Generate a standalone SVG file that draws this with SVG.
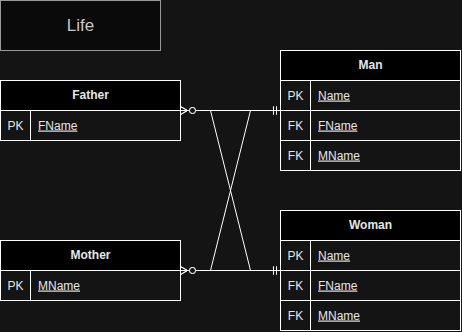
<svg xmlns="http://www.w3.org/2000/svg" width="462" height="332" viewBox="0 0 462 332">
  <style>
    .hdr { fill: #000000; stroke: #ffffff; stroke-width: 1; }
    .row { fill: #141414; stroke: #ffffff; stroke-width: 1; }
    .div { stroke: #ffffff; stroke-width: 1; }
    .title { font-family: "Liberation Sans", Arial, sans-serif; font-size: 12px; font-weight: bold; fill: #e6e6e6; text-anchor: middle; }
    .key { font-family: "Liberation Sans", Arial, sans-serif; font-size: 12px; fill: #e6e6e6; text-anchor: middle; }
    .fld { font-family: "Liberation Sans", Arial, sans-serif; font-size: 12px; fill: #e6e6e6; text-decoration: underline; }
    .edge { fill: none; stroke: #ffffff; stroke-width: 1; }
  </style>
  <defs>
    <!-- zero-or-many: crow's foot plus open circle -->
    <marker id="zeroMany" markerUnits="userSpaceOnUse" markerWidth="20" markerHeight="12" refX="0" refY="6" orient="auto" viewBox="0 0 20 12">
      <path d="M0,2 L7,6 L0,10 M0,6 L9,6" fill="none" stroke="#ffffff" stroke-width="1"/>
      <circle cx="12" cy="6" r="3" fill="#141414" stroke="#ffffff" stroke-width="1"/>
    </marker>
    <!-- mandatory one: two bars -->
    <marker id="mandOne" markerUnits="userSpaceOnUse" markerWidth="12" markerHeight="12" refX="10" refY="6" orient="auto" viewBox="0 0 12 12">
      <path d="M3,2 L3,10 M6,2 L6,10" fill="none" stroke="#ffffff" stroke-width="1"/>
    </marker>
  </defs>

  <rect width="462" height="332" fill="#141414"/>

  <g id="life">
    <rect x="0.5" y="0.5" width="160" height="50" fill="#0a0a0a" stroke="#999999"/>
    <text x="80.5" y="31" font-family="Liberation Sans, Arial, sans-serif" font-size="17" fill="#c8c8c8" text-anchor="middle">Life</text>
  </g>

  <g id="father">
    <rect class="row" x="0.5" y="110.5" width="180" height="30"/>
    <rect class="hdr" x="0.5" y="80.5" width="180" height="30"/>
    <line class="div" x1="30.5" y1="110.5" x2="30.5" y2="140.5"/>
    <text class="title" x="90.5" y="99">Father</text>
    <text class="key" x="15.5" y="129.5">PK</text>
    <text class="fld" x="38" y="129.5">FName</text>
  </g>

  <g id="mother">
    <rect class="row" x="0.5" y="270.5" width="180" height="30"/>
    <rect class="hdr" x="0.5" y="240.5" width="180" height="30"/>
    <line class="div" x1="30.5" y1="270.5" x2="30.5" y2="300.5"/>
    <text class="title" x="90.5" y="259">Mother</text>
    <text class="key" x="15.5" y="289.5">PK</text>
    <text class="fld" x="38" y="289.5">MName</text>
  </g>

  <g id="man">
    <rect class="row" x="280.5" y="80.5" width="180" height="90"/>
    <rect class="hdr" x="280.5" y="50.5" width="180" height="30"/>
    <line class="div" x1="280.5" y1="110.5" x2="460.5" y2="110.5"/>
    <line class="div" x1="280.5" y1="140.5" x2="460.5" y2="140.5"/>
    <line class="div" x1="310.5" y1="80.5" x2="310.5" y2="170.5"/>
    <text class="title" x="370.5" y="69">Man</text>
    <text class="key" x="295.5" y="99.5">PK</text>
    <text class="fld" x="318" y="99.5">Name</text>
    <text class="key" x="295.5" y="129.5">FK</text>
    <text class="fld" x="318" y="129.5">FName</text>
    <text class="key" x="295.5" y="159.5">FK</text>
    <text class="fld" x="318" y="159.5">MName</text>
  </g>

  <g id="woman">
    <rect class="row" x="280.5" y="240.5" width="180" height="90"/>
    <rect class="hdr" x="280.5" y="210.5" width="180" height="30"/>
    <line class="div" x1="280.5" y1="270.5" x2="460.5" y2="270.5"/>
    <line class="div" x1="280.5" y1="300.5" x2="460.5" y2="300.5"/>
    <line class="div" x1="310.5" y1="240.5" x2="310.5" y2="330.5"/>
    <text class="title" x="370.5" y="229">Woman</text>
    <text class="key" x="295.5" y="259.5">PK</text>
    <text class="fld" x="318" y="259.5">Name</text>
    <text class="key" x="295.5" y="289.5">FK</text>
    <text class="fld" x="318" y="289.5">FName</text>
    <text class="key" x="295.5" y="319.5">FK</text>
    <text class="fld" x="318" y="319.5">MName</text>
  </g>

  <g id="connectors">
    <path class="edge" d="M180.5,110.5 L280.5,110.5" marker-start="url(#zeroMany)" marker-end="url(#mandOne)"/>
    <path class="edge" d="M180.5,110.5 L210.5,110.5 L250.5,270.5 L280.5,270.5" marker-start="url(#zeroMany)" marker-end="url(#mandOne)"/>
    <path class="edge" d="M180.5,270.5 L210.5,270.5 L250.5,110.5 L280.5,110.5" marker-start="url(#zeroMany)" marker-end="url(#mandOne)"/>
    <path class="edge" d="M180.5,270.5 L280.5,270.5" marker-start="url(#zeroMany)" marker-end="url(#mandOne)"/>
  </g>
</svg>
